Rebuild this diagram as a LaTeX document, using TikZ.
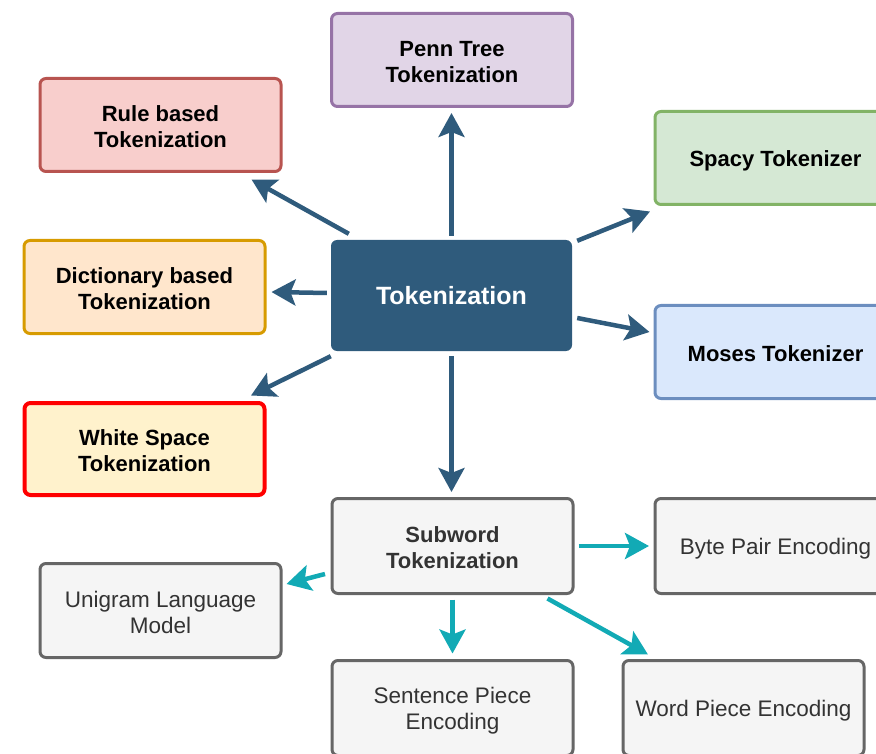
\documentclass[tikz,border=0pt]{standalone}
\usepackage{fontspec}
\setmainfont{Liberation Sans}
\usetikzlibrary{arrows.meta,calc}

\definecolor{navy}{HTML}{2F5B7C}
\definecolor{tealline}{HTML}{12AAB5}
\definecolor{grayline}{HTML}{666666}
\definecolor{grayfill}{HTML}{F5F5F5}
\definecolor{graytext}{HTML}{333333}
\definecolor{purpleline}{HTML}{9673A6}
\definecolor{purplefill}{HTML}{E1D5E7}
\definecolor{redline}{HTML}{B85450}
\definecolor{redfill}{HTML}{F8CECC}
\definecolor{greenline}{HTML}{82B366}
\definecolor{greenfill}{HTML}{D5E8D4}
\definecolor{orangeline}{HTML}{D79B00}
\definecolor{orangefill}{HTML}{FFE6CC}
\definecolor{blueline}{HTML}{6C8EBF}
\definecolor{bluefill}{HTML}{DAE8FC}
\definecolor{yellowfill}{HTML}{FFF2CC}
\definecolor{brightred}{HTML}{FF0000}

% fixed line box (height 22.5pt, depth 3.5pt) so each text line sits alike
\newcommand{\ls}{\rule[-3.5pt]{0pt}{26pt}}
% exact 26pt line pitch, whatever the glyphs
\newcommand{\boldlabel}{\fontsize{22}{26}\selectfont\bfseries\lineskiplimit=-30pt}
\newcommand{\plainlabel}{\fontsize{22.5}{26}\selectfont\lineskiplimit=-30pt}

\tikzset{
  box/.style={draw, rounded corners=6pt, line width=3pt, minimum width=241pt,
    minimum height=93pt, inner sep=0pt, align=center, font=\boldlabel},
  graybox/.style={box, draw=grayline, fill=grayfill, text=graytext,
    font=\plainlabel},
  tip/.style={-{Stealth[length=24pt,width=26pt,inset=5pt]}},
  navyarr/.style={draw=navy, line width=4.5pt, tip},
  tealarr/.style={draw=tealline, line width=4.5pt, tip},
}

\begin{document}
\begin{tikzpicture}[x=1pt,y=-1pt]
\useasboundingbox (0,0) rectangle (876,754);
\clip (0,0) rectangle (876,754);

% central concept
\node[fill=navy, rounded corners=6pt, minimum width=241pt, minimum height=111pt,
  inner sep=0pt, text=white, font=\fontsize{25}{30}\selectfont\bfseries]
  (tok) at (451.5,295.5) {Tokenization};

% tokenizer families
\node[box, draw=purpleline, fill=purplefill] (penn) at (452,60)
  {\ls Penn Tree\\\ls Tokenization};
\node[box, draw=redline, fill=redfill] (rule) at (160.5,125)
  {\ls Rule based\\\ls Tokenization};
\node[box, draw=greenline, fill=greenfill] (spacy) at (775.5,158)
  {\ls Spacy Tokenizer};
\node[box, draw=orangeline, fill=orangefill] (dict) at (144.5,287)
  {\ls Dictionary based\\\ls Tokenization};
\node[box, draw=blueline, fill=bluefill] (moses) at (775.5,352)
  {\ls Moses Tokenizer};
\node[box, draw=brightred, line width=4pt, minimum width=240pt, minimum height=92pt,
  fill=yellowfill] (white) at (144.5,449) {\ls White Space\\\ls Tokenization};

% subword methods
\node[graybox, minimum height=95pt, font=\boldlabel]
  (sub) at (452.5,546) {\ls Subword\\\ls Tokenization};
\node[graybox, minimum height=95pt] (byte) at (775.5,546) {\ls Byte Pair Encoding};
\node[graybox, minimum height=94pt] (uni) at (160.5,610.5)
  {\ls Unigram Language\\\ls Model};
\node[graybox, minimum height=95pt] (sent) at (452.5,708)
  {\ls Sentence Piece\\\ls Encoding};
\node[graybox, minimum height=95pt] (word) at (743.5,708) {\ls Word Piece Encoding};

% connectors from the central concept
\draw[navyarr, shorten <=4pt, shorten >=5pt] (tok.north) -- (tok.north |- penn.south);
\draw[navyarr] ($(tok.north west)+(18,-6)$) -- ($(rule.south east)+(-31,6.5)$);
\draw[navyarr] ($(tok.north east)+(5,1)$) -- ($(spacy.south west)+(-3.5,5.5)$);
\draw[navyarr] ($(tok.west)+(-4,-2.5)$) -- ($(dict.east)+(5,5)$);
\draw[navyarr] ($(tok.east)+(5,22.5)$) -- ($(moses.west)+(-4,-20)$);
\draw[navyarr] ($(tok.south west)+(0,5)$) -- ($(white.north east)+(-15.5,-5.5)$);
\draw[navyarr, shorten <=5pt, shorten >=5pt] (tok.south) -- (tok.south |- sub.north);

% connectors from subword tokenization
\draw[tealarr, shorten <=4pt, shorten >=4.5pt] (sub.east) -- (byte.west);
\draw[tealarr] ($(sub.west)+(-5.5,28)$) -- ($(uni.east)+(4,-26.5)$);
\draw[tealarr, shorten <=4.5pt, shorten >=5.5pt] (sub.south) -- (sent.north);
\draw[tealarr] ($(sub.south east)+(-27,3.5)$) -- ($(word.north west)+(26.5,-4.5)$);
\end{tikzpicture}
\end{document}
